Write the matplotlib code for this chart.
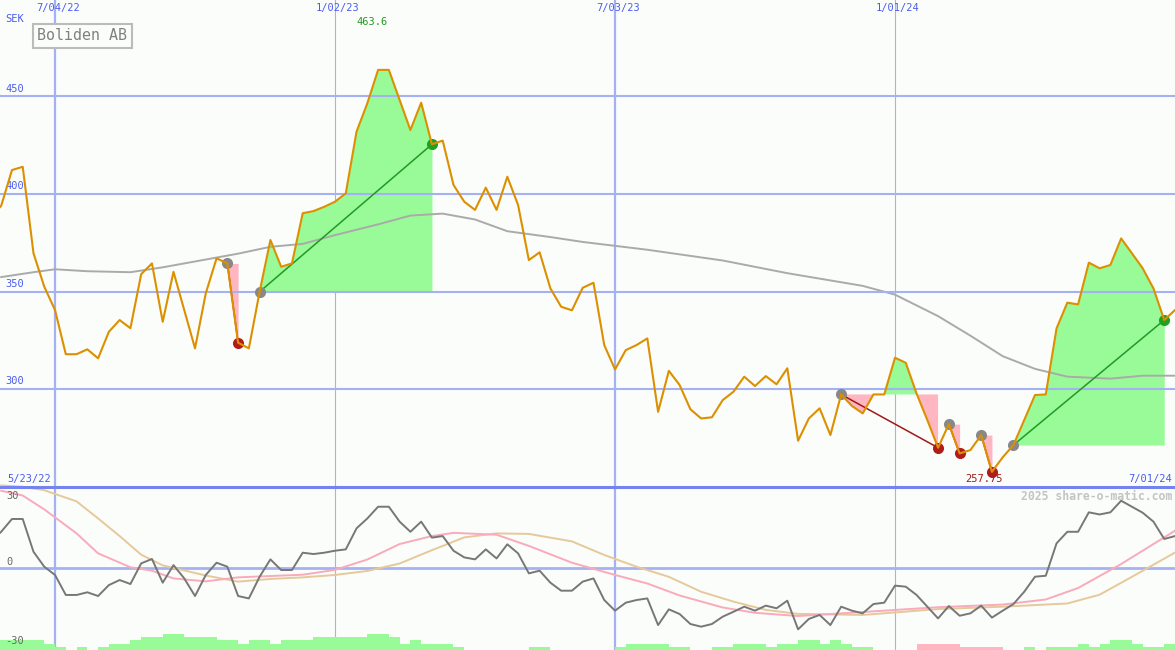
import numpy as np
import matplotlib
matplotlib.use("Agg")
import matplotlib.pyplot as plt
from matplotlib.lines import Line2D

# weekly closes, week 0 = 5/23/22
price = [388, 394, 412.3, 414, 369.7, 352.6, 340.6, 318, 318, 320.5,
         315.9, 329.5, 335.5, 331.3, 359, 364.5, 334.6, 360.2, 340.6, 321,
         349.2, 367.1, 364.5, 323.9, 321, 350, 376.5, 362.8, 364.5, 390.2,
         391.3, 393.5, 396.1, 400.4, 432, 446.5, 463.6, 463.6, 448.2, 432.8,
         446.8, 425.5, 427.4, 404.7, 396.1, 391.9, 403.3, 391.9, 408.9, 394.4,
         366.2, 370.2, 351.7, 342.3, 340.5, 352, 354.6, 322.7, 310.2, 320.1,
         322.7, 326.1, 288.5, 309.5, 302.2, 289.8, 285.1, 285.7, 294.5, 298.8,
         306.5, 301.7, 306.8, 302.6, 310.8, 273.7, 285.1, 290.3, 276.6, 297.4,
         291.5, 287.7, 297.4, 297.4, 316.2, 313.6, 297.9, 284.3, 270.1, 282.2,
         267.2, 268.9, 276.6, 257.75, 265.2, 271.5, 284.3, 297.1, 297.4, 331.2,
         344.4, 343.5, 364.9, 362, 363.7, 377.3, 369.7, 362, 351.7, 335.5,
         340.6]
weeks = np.arange(len(price))

# 40 week average
sma_weeks = [1, 4, 6, 9, 13, 16, 20, 23, 26, 29, 32, 36, 39, 42, 45, 48, 52, 55,
             61, 68, 74, 81, 84, 88, 91, 94, 97, 100, 104, 107, 110]
sma = [357.5, 360, 361.5, 360.5, 360, 362.5, 366.5, 369.5, 373, 374.5, 379, 384.5,
       389, 390, 387, 381, 378, 375.5, 371.5, 366, 359.5, 353, 348.5, 337.5, 327.5,
       317, 310.5, 306.5, 305.5, 307, 307]

# lower panel oscillators
mom = [10, 13.6, 18.4, 18.4, 6.1, 0.5, -2.6, -10.1, -10.1, -9.1,
       -10.5, -6.4, -4.5, -6, 1.75, 3.4, -5.5, 1.1, -3.9, -10.5,
       -2.6, 2, 0.5, -10.5, -11.4, -3.25, 3.25, -0.75, -0.75, 5.75,
       5.25, 5.75, 6.5, 7, 14.9, 18.6, 23, 23, 17.4, 13.6,
       17.4, 11.4, 12, 6.5, 4, 3.25, 7, 3.6, 8.9, 5.5,
       -2, -1, -5.5, -8.5, -8.5, -5.1, -3.9, -12, -16, -13,
       -12, -11.4, -21.4, -15.5, -17.25, -21, -22, -21, -18.25, -16.4,
       -14.5, -16, -14.1, -15.1, -12.25, -23, -19.1, -17.6, -21.4, -14.5,
       -16, -17, -13.5, -13, -6.6, -7, -10.1, -14.5, -18.9, -14.25,
       -17.9, -17, -14.1, -18.6, -16, -13.5, -8.9, -3.25, -2.9, 9.25,
       13.6, 13.6, 20.9, 20.1, 20.9, 25.25, 23, 20.75, 17.4, 10.9,
       12]
pink_weeks = [1, 3, 5, 8, 10, 13, 15, 17, 20, 23, 26, 29, 32, 35, 38, 41, 43, 47,
              50, 54, 58, 61, 64, 68, 71, 75, 81, 88, 94, 98, 101, 105, 108, 110]
pink_vals = [29, 27.2, 22, 13, 5.5, 0.3, -1, -3.9, -5, -3.5, -3, -2.5, -0.7, 3.2,
             9, 12, 13.2, 12.5, 8.3, 2, -2.6, -5.8, -10.3, -14.8, -16.8, -18, -16.5,
             -14.7, -13.7, -11.8, -7.5, 1.5, 9, 14]
tan_weeks = [1, 3, 5, 8, 10, 12, 14, 16, 20, 23, 26, 29, 32, 35, 38, 41, 44, 47,
             50, 54, 57, 60, 63, 66, 69, 72, 75, 81, 88, 94, 100, 103, 106, 110]
tan_vals = [31, 30.5, 29.2, 25, 18.6, 12, 5, 1, -2.8, -5.1, -4.1, -3.5, -2.6, -1.1,
            1.7, 6.7, 11.5, 13, 12.8, 10, 4.9, 0.5, -3.3, -8.9, -12.6, -15.7, -17.2,
            -17.6, -15.4, -14.5, -13.3, -10, -3.3, 5.8]
# bottom strength bars, one per week (negative = pink)
bar_level = [3, 3, 3, 3, 3, 2, 1, 0, 1, 0,
             1, 2, 2, 3, 4, 4, 5, 5, 4, 4,
             4, 3, 3, 2, 3, 3, 2, 3, 3, 3,
             4, 4, 4, 4, 4, 5, 5, 4, 2, 3,
             2, 2, 2, 1, 0, 0, 0, 0, 0, 0,
             1, 1, 0, 0, 0, 0, 0, 0, 1, 2,
             2, 2, 2, 1, 1, 0, 0, 1, 1, 2,
             2, 2, 1, 2, 2, 3, 3, 2, 3, 2,
             1, 1, 0, 0, 0, 0, -2, -2, -2, -2,
             -1, -1, -1, -1, 0, 0, 1, 0, 1, 1,
             1, 2, 1, 2, 3, 3, 2, 1, 1, 2]

# (start week, end week) of the trend signals
signals = [(22, 23), (25, 41), (79, 88), (89, 90), (92, 93), (95, 109)]

tick_weeks = [6, 32, 58, 84]
tick_labels = ["7/04/22", "1/02/23", "7/03/23", "1/01/24"]
price_levels = [450, 400, 350, 300]

W, H = 1175, 650
bg = "#fbfdfb"
grid = "#a4b2f4"
blue = "#4a5cf0"
green_fill = "#98fb98"
pink_fill = "#ffb6c1"
mono = "DejaVu Sans Mono"

fig = plt.figure(figsize=(W / 100, H / 100), dpi=100)
fig.patch.set_facecolor(bg)
split = 163 / H
ax = fig.add_axes([0, split, 1, 1 - split])
ax2 = fig.add_axes([0, 0, 1, split])
for a in (ax, ax2):
    a.set_axis_off()
    a.set_xlim(0.89, 110)
ax.set_ylim(250, 499.4)
ax2.set_ylim(-30.75, 30.4)

# vertical date lines
for i, w in enumerate(tick_weeks):
    lw = 1.6 if i % 2 == 0 else 0.8
    ax.axvline(w, color=grid, lw=lw, zorder=0)
    ax2.axvline(w, color=grid, lw=lw, zorder=0)
for lv in price_levels:
    ax.axhline(lv, color=grid, lw=1.5, zorder=3)
ax2.axhline(0, color=grid, lw=2, zorder=0)

# signal fills / lines / dots
p = np.array(price)
for s, e in signals:
    lvl = p[s]
    xs = weeks[s:e + 1]
    ys = p[s:e + 1]
    ax.fill_between(xs, ys, lvl, where=ys >= lvl, interpolate=True,
                    color=green_fill, lw=0, zorder=1)
    ax.fill_between(xs, ys, lvl, where=ys <= lvl, interpolate=True,
                    color=pink_fill, lw=0, zorder=1)
    up = p[e] > lvl
    ax.plot([s, e], [lvl, p[e]], color="#229922" if up else "#a01818",
            lw=1.1, zorder=4)
    ax.plot(s, lvl, "o", color="#888888", ms=8, mec="none", zorder=4)
    ax.plot(e, p[e], "o", color="#22a022" if up else "#b01c1c", ms=8,
            mec="none", zorder=4)

ax.plot(sma_weeks, sma, color="#aaaaaa", lw=1.4, zorder=2)
ax.plot(weeks, price, color="#dc9000", lw=1.5, zorder=5)

imax = int(np.argmax(p))
ax.annotate(f"{p[imax]:.1f}", xy=(imax, p[imax]), xytext=(-6, 48),
            textcoords="offset pixels", ha="center", va="center",
            color="#229922", fontsize=7.5, family=mono)
imin = int(np.argmin(p))
ax.annotate(f"{p[imin]:g}", xy=(imin, p[imin]), xytext=(-8, -7),
            textcoords="offset pixels", ha="center", va="center",
            color="#a01818", fontsize=7.5, family=mono)

# lower panel
cols = [green_fill if v >= 0 else pink_fill for v in bar_level]
ax2.bar(weeks[:-1], [abs(v) * 1.2 for v in bar_level], width=1.0, align="edge",
        bottom=-30.75, color=cols, lw=0, zorder=1)
ax2.plot(tan_weeks, tan_vals, color="#e6c99a", lw=1.4, zorder=2, clip_on=False)
ax2.plot(pink_weeks, pink_vals, color="#f9aabb", lw=1.4, zorder=3)
ax2.plot(weeks, mom, color="#777777", lw=1.4, zorder=4)

fig.add_artist(Line2D([0, 1], [split, split], transform=fig.transFigure,
                      color="#7483ee", lw=2.2))


def px(x, y):
    return x / W, 1 - y / H


for w, lab in zip(tick_weeks, tick_labels):
    xp = -9.6 + 10.77 * w
    fig.text(*px(xp + 3, 8), lab, ha="center", va="center", color=blue,
             fontsize=7.5, family=mono)
fig.text(*px(5, 19), "SEK", ha="left", va="center", color=blue, fontsize=7.5, family=mono)
for lv in price_levels:
    ax.text(5 / W, lv + 1.5, str(lv), transform=ax.get_yaxis_transform(),
            ha="left", va="bottom", color=blue, fontsize=7.5, family=mono)
fig.text(*px(7, 479), "5/23/22", ha="left", va="center", color=blue, fontsize=7.5, family=mono)
fig.text(*px(1172, 479), "7/01/24", ha="right", va="center", color=blue, fontsize=7.5, family=mono)
fig.text(*px(6, 496), "30", ha="left", va="center", color="#666666", fontsize=7.5, family=mono)
fig.text(*px(6, 562), "0", ha="left", va="center", color="#666666", fontsize=7.5, family=mono)
fig.text(*px(5, 641), "-30", ha="left", va="center", color="#666666", fontsize=7.5, family=mono)
fig.text(*px(1172, 496), "2025 share-o-matic.com", ha="right", va="center",
         color="#c4c4c4", fontsize=8.3, family=mono, fontweight="bold")
fig.text(*px(82, 36), "Boliden AB", ha="center", va="center", color="#808080",
         fontsize=10.8, family=mono,
         bbox=dict(boxstyle="square,pad=0.3", fc=bg, ec="#bbbbbb", lw=1.5))

fig.savefig("out.png", dpi=100, facecolor=bg)
